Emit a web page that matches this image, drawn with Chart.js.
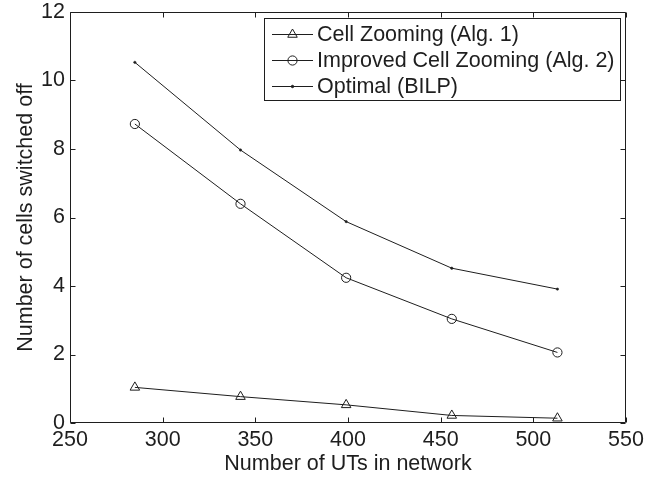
<!DOCTYPE html>
<html>
<head>
<meta charset="utf-8">
<script src="https://cdn.jsdelivr.net/npm/chart.js@4.4.1/dist/chart.umd.min.js"></script>
<style>
  html, body { margin: 0; padding: 0; background: #fff; }
  #wrap { width: 667px; height: 478px; }
</style>
</head>
<body>
<div id="wrap"><canvas id="c" width="667" height="478"></canvas></div>
<script>
const utCounts = [285, 342, 399, 456, 513];
const cellZooming = [1.04, 0.77, 0.53, 0.22, 0.14];
const improvedCellZooming = [8.73, 6.40, 4.24, 3.04, 2.06];
const optimalBILP = [10.53, 7.97, 5.88, 4.52, 3.91];
const seriesLabels = ['Cell Zooming (Alg. 1)', 'Improved Cell Zooming (Alg. 2)', 'Optimal (BILP)'];
const xTicks = [250, 300, 350, 400, 450, 500, 550];
const yTicks = [0, 2, 4, 6, 8, 10, 12];
const xTitle = 'Number of UTs in network';
const yTitle = 'Number of cells switched off';

const FONT = 'Liberation Sans, Arial, Helvetica, sans-serif';
const FS = 21.5;
const INK = '#1e1e1e';

function pts(ys) { return utCounts.map((x, i) => ({ x: x, y: ys[i] })); }

const boxPlugin = {
  id: 'matlabBox',
  afterDatasetsDraw(chart) {
    const { ctx, chartArea: a, scales } = chart;
    ctx.save();
    ctx.strokeStyle = INK;
    ctx.lineWidth = 1;
    const L = Math.round(a.left) + 0.5, R = Math.round(a.right) - 0.5;
    const T = Math.round(a.top) + 0.5, B = Math.round(a.bottom) - 0.5;
    ctx.beginPath();
    ctx.rect(L, T, R - L, B - T);
    ctx.stroke();
    const tl = 5;
    ctx.beginPath();
    scales.x.ticks.forEach(t => {
      const px = Math.round(scales.x.getPixelForValue(t.value)) + 0.5;
      ctx.moveTo(px, B); ctx.lineTo(px, B - tl);
      ctx.moveTo(px, T); ctx.lineTo(px, T + tl);
    });
    scales.y.ticks.forEach(t => {
      const py = Math.round(scales.y.getPixelForValue(t.value)) + 0.5;
      ctx.moveTo(L, py); ctx.lineTo(L + tl, py);
      ctx.moveTo(R, py); ctx.lineTo(R - tl, py);
    });
    ctx.stroke();

    // legend box inside the axes, top-right
    const bx = 264.5, by = 18.5, bw = 356, bh = 82;
    ctx.fillStyle = '#fff';
    ctx.fillRect(bx, by, bw, bh);
    ctx.strokeStyle = INK;
    ctx.lineWidth = 1;
    ctx.strokeRect(bx, by, bw, bh);
    ctx.font = FS + 'px ' + FONT;
    ctx.textBaseline = 'middle';
    ctx.textAlign = 'left';
    chart.data.datasets.forEach((ds, i) => {
      const cy = 34.5 + i * 26;
      ctx.strokeStyle = ds.borderColor;
      ctx.lineWidth = 1;
      ctx.beginPath();
      ctx.moveTo(272, cy); ctx.lineTo(313, cy);
      ctx.stroke();
      ctx.fillStyle = ds.pointBackgroundColor;
      ctx.strokeStyle = ds.pointBorderColor;
      Chart.helpers.drawPoint(ctx, {
        pointStyle: ds.pointStyle,
        radius: ds.pointRadius,
        rotation: 0,
        borderWidth: 1
      }, 292.5, cy);
      ctx.fillStyle = INK;
      ctx.fillText(ds.label, 317, cy + 1);
    });
    ctx.restore();
  }
};

function fixAxis(s) {
  s.paddingLeft = 0; s.paddingRight = 0; s.paddingTop = 0; s.paddingBottom = 0;
}

new Chart(document.getElementById('c'), {
  type: 'line',
  data: {
    datasets: [
      { label: seriesLabels[0], data: pts(cellZooming), borderColor: INK, backgroundColor: 'rgba(0,0,0,0)',
        pointStyle: 'triangle', pointRadius: 5.5, pointBorderWidth: 1, pointBorderColor: INK, pointBackgroundColor: 'rgba(255,255,255,0)', borderWidth: 1, tension: 0, clip: false },
      { label: seriesLabels[1], data: pts(improvedCellZooming), borderColor: INK, backgroundColor: 'rgba(0,0,0,0)',
        pointStyle: 'circle', pointRadius: 4.6, pointBorderWidth: 1, pointBorderColor: INK, pointBackgroundColor: 'rgba(255,255,255,0)', borderWidth: 1, tension: 0, clip: false },
      { label: seriesLabels[2], data: pts(optimalBILP), borderColor: INK, backgroundColor: INK,
        pointStyle: 'circle', pointRadius: 1.2, pointBorderWidth: 0.5, pointBorderColor: INK, pointBackgroundColor: INK, borderWidth: 1, tension: 0, clip: false }
    ]
  },
  options: {
    responsive: false,
    animation: false,
    events: [],
    layout: { padding: { left: 0, top: 12, right: 41, bottom: 0 } },
    plugins: { legend: { display: false }, tooltip: { enabled: false } },
    scales: {
      x: {
        type: 'linear', min: 250, max: 550,
        afterBuildTicks: s => { s.ticks = xTicks.map(v => ({ value: v })); },
        afterFit: s => { s.height = 55; fixAxis(s); },
        grid: { display: false, drawTicks: false, tickLength: 0 },
        border: { display: false },
        ticks: { padding: 4, color: INK, font: { family: FONT, size: FS }, maxRotation: 0, autoSkip: false },
        title: { display: true, text: xTitle, color: INK, font: { family: FONT, size: FS }, padding: { top: 0, bottom: 1 } }
      },
      y: {
        type: 'linear', min: 0, max: 12,
        afterBuildTicks: s => { s.ticks = yTicks.map(v => ({ value: v })); },
        afterFit: s => { s.width = 70; fixAxis(s); },
        grid: { display: false, drawTicks: false, tickLength: 0 },
        border: { display: false },
        ticks: { padding: 5, color: INK, font: { family: FONT, size: FS }, autoSkip: false },
        title: { display: true, text: yTitle, color: INK, font: { family: FONT, size: FS }, padding: { top: 13, bottom: 0 } }
      }
    }
  },
  plugins: [boxPlugin]
});
</script>
</body>
</html>
